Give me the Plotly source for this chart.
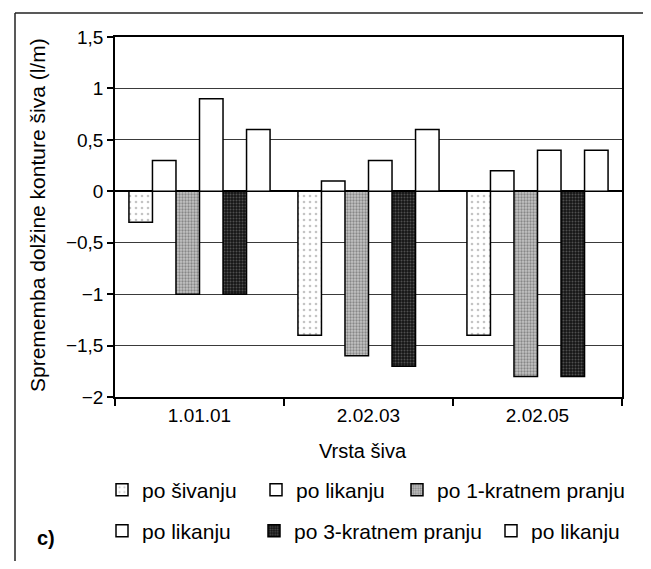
import plotly.graph_objects as go

categories = ["1.01.01", "2.02.03", "2.02.05"]
series_names = ["po šivanju", "po likanju", "po 1-kratnem pranju",
                "po likanju", "po 3-kratnem pranju", "po likanju"]
po_sivanju = [-0.3, -1.4, -1.4]
po_likanju_1 = [0.3, 0.1, 0.2]
po_1_kratnem_pranju = [-1.0, -1.6, -1.8]
po_likanju_2 = [0.9, 0.3, 0.4]
po_3_kratnem_pranju = [-1.0, -1.7, -1.8]
po_likanju_3 = [0.6, 0.6, 0.4]
series_values = [po_sivanju, po_likanju_1, po_1_kratnem_pranju,
                 po_likanju_2, po_3_kratnem_pranju, po_likanju_3]
y_tickvals = [-2, -1.5, -1, -0.5, 0, 0.5, 1, 1.5]
y_ticktext = ["−2", "−1,5", "−1", "−0,5", "0", "0,5", "1", "1,5"]

FONT = "Liberation Sans, Arial, sans-serif"

# the page body has an 8px margin: screen px -> figure px = p - OFF
OFF = 8
W, H = 651 - OFF, 569 - 2 * OFF
# plot area in screen pixels
L, R, T, B = 115, 622, 37, 397
PW, PH = R - L, B - T


def px_x(x):
    return (x - L) / PW


def px_y(y):
    return (B - y) / PH


styles = [
    dict(color="white", pattern=dict(shape=".", fgcolor="#8a8a8a", bgcolor="white",
                                     size=6, solidity=0.15, fillmode="overlay")),
    dict(color="white"),
    dict(color="#c4c4c4", pattern=dict(shape=".", fgcolor="#4a4a4a", bgcolor="#c4c4c4",
                                       size=3, solidity=0.45, fillmode="overlay")),
    dict(color="white"),
    dict(color="#151515", pattern=dict(shape=".", fgcolor="#8a8a8a", bgcolor="#151515",
                                       size=3, solidity=0.35, fillmode="overlay")),
    dict(color="white"),
]

# legend item positions (symbol left px, center y px) in screen pixels
legend_pos = [(116, 490), (270, 490), (411, 490),
              (116, 531), (268, 531), (505, 531)]

fig = go.Figure()
for i, (name, vals) in enumerate(zip(series_names, series_values)):
    lg = "legend" if i == 0 else f"legend{i + 1}"
    fig.add_trace(go.Bar(
        x=categories, y=vals, name=name, legend=lg, showlegend=True,
        marker=dict(line=dict(color="black", width=1.5), **styles[i]),
    ))

layout_legends = {}
for i, (sx, sy) in enumerate(legend_pos):
    key = "legend" if i == 0 else f"legend{i + 1}"
    layout_legends[key] = dict(
        x=px_x(sx - 14), y=px_y(sy), xanchor="left", yanchor="middle",
        bgcolor="rgba(0,0,0,0)", font=dict(family=FONT, size=21, color="black"),
        orientation="h", borderwidth=0,
    )

fig.update_layout(
    width=W, height=H,
    margin=dict(l=L - OFF, r=W - (R - OFF), t=T - OFF, b=H - (B - OFF), autoexpand=False),
    paper_bgcolor="white", plot_bgcolor="white",
    barmode="group", bargap=0.165, bargroupgap=0,
    showlegend=True,
    font=dict(family=FONT, size=17, color="black"),
    **layout_legends,
)

fig.update_xaxes(
    type="category", range=[-0.5, 2.5], automargin=False,
    showline=True, mirror=True, linecolor="black", linewidth=1.5,
    ticks="outside", tickson="boundaries", ticklen=7, tickcolor="black", tickwidth=1.5,
    tickfont=dict(family=FONT, size=19, color="black"),
    showgrid=False,
)
fig.update_yaxes(
    range=[-2, 1.5], tickvals=y_tickvals, ticktext=y_ticktext, automargin=False,
    showline=True, mirror=True, linecolor="black", linewidth=1.5,
    ticks="outside", ticklen=6, tickcolor="black", tickwidth=1.5,
    tickfont=dict(family=FONT, size=19, color="black"),
    showgrid=True, gridcolor="#3a3a3a", gridwidth=1,
    zeroline=True, zerolinecolor="black", zerolinewidth=2,
)

fig.add_annotation(text="Sprememba dolžine konture šiva (l/m)", textangle=-90,
                   xref="paper", yref="paper", x=px_x(37), y=px_y(215),
                   xanchor="center", yanchor="middle", showarrow=False,
                   font=dict(family=FONT, size=21, color="black"))
fig.add_annotation(text="Vrsta šiva", xref="paper", yref="paper",
                   x=px_x(363), y=px_y(451), xanchor="center", yanchor="middle",
                   showarrow=False, font=dict(family=FONT, size=20, color="black"))
fig.add_annotation(text="<b>c)</b>", xref="paper", yref="paper",
                   x=px_x(46), y=px_y(538), xanchor="center", yanchor="middle",
                   showarrow=False, font=dict(family=FONT, size=20, color="black"))

# outer frame lines (top and left)
fig.add_shape(type="line", xref="paper", yref="paper",
              x0=px_x(15), x1=px_x(660), y0=px_y(13), y1=px_y(13),
              line=dict(color="#222", width=1.5))
fig.add_shape(type="line", xref="paper", yref="paper",
              x0=px_x(15), x1=px_x(15), y0=px_y(13), y1=px_y(580),
              line=dict(color="#222", width=1.5))

fig.write_html("out.html")
